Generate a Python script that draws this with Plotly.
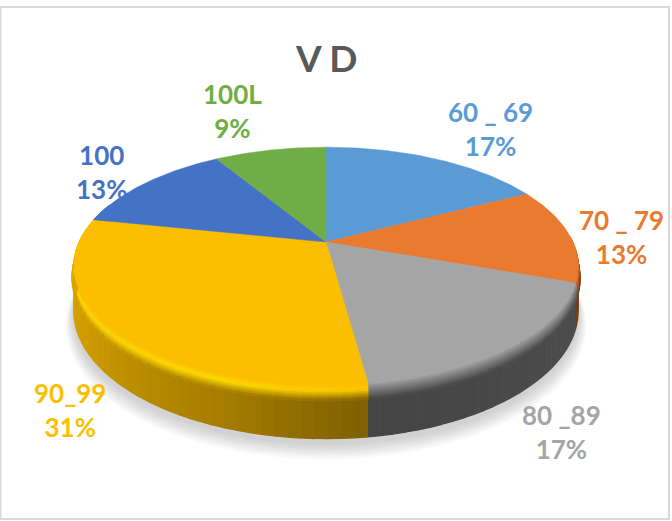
import numpy as np
import plotly.graph_objects as go

categories = ["60 _ 69", "70 _ 79", "80 _89", "90_99", "100", "100L"]
values = [4, 3, 4, 7, 3, 2]
percent_labels = ["17%", "13%", "17%", "31%", "13%", "9%"]
colors = [(91, 155, 213), (233, 122, 47), (165, 165, 165), (252, 190, 0), (68, 114, 196), (112, 173, 71)]
label_pos = [(490, 129), (621, 237), (561, 432), (70, 410), (101, 172), (232, 111)]

CX, CY, RX, RY, K = 326.0, 242.0, 247.0, 114.0, 0.2017
DEPTH, BEVEL = 43.0, 12.0


def project(theta_deg, r=1.0, dz=0.0):
    th = np.radians(theta_deg)
    u, v = r * np.sin(th), r * np.cos(th)
    w = 1 + K * np.cos(th)
    return CX + RX * u / (1 + K * v), CY + (-RY * v + dz) / w


def rgb(c):
    return f"rgb({int(c[0])},{int(c[1])},{int(c[2])})"


def mix(a, b, t):
    return tuple(a[i] + (b[i] - a[i]) * t for i in range(3))


def wall_factor(i, th):
    if i == 3:
        return float(np.interp(th, [172, 200, 240, 275, 290], [0.50, 0.66, 0.82, 0.88, 0.9]))
    if i == 2:
        return float(np.interp(th, [108, 172], [0.47, 0.42]))
    return 0.5


def poly(xs, ys, color, lw=1.2):
    return go.Scatter(x=list(xs), y=list(ys), mode="lines", fill="toself", fillcolor=color,
                      line=dict(color=color, width=lw), hoverinfo="skip", showlegend=False)


fig = go.Figure()
edges = np.concatenate([[0], np.cumsum(values)]) / sum(values) * 360.0

# soft shadow below the pie
ring = np.linspace(0, 360, 181)
for k in range(8):
    grow = 1.03 - 0.004 * k
    extra = 56 - 1.2 * k
    x, y = project(ring, grow, extra)
    fig.add_trace(go.Scatter(x=x, y=y, mode="lines", fill="toself", fillcolor="rgba(90,90,90,0.035)",
                             line=dict(width=0), hoverinfo="skip", showlegend=False))

# side wall and bevel
STEP = 2.5
BANDS = np.linspace(0, 1, 9)
for i in range(len(values)):
    a, b = max(edges[i], 88.0), min(edges[i + 1], 290.0)
    if b <= a:
        continue
    n = max(1, int(np.ceil((b - a) / STEP)))
    th = np.linspace(a, b, n + 1)
    for t0, t1 in zip(th[:-1], th[1:]):
        mid = (t0 + t1) / 2
        f = wall_factor(i, mid)
        wall = mix((0, 0, 0), colors[i], f)
        x0, y0 = project(np.array([t0, t1]), 1.0, BEVEL)
        x1, y1 = project(np.array([t1, t0]), 1.0, DEPTH)
        fig.add_trace(poly(np.r_[x0, x1], np.r_[y0, y1], rgb(wall)))
        for b0, b1 in zip(BANDS[:-1], BANDS[1:]):
            m = (b0 + b1) / 2
            if i == 3:
                glow = float(np.interp(mid, [172, 200, 282], [0.25, 0.9, 0.6]))
                bright = mix(colors[i], (255, 222, 0), glow)
                c = mix(colors[i], bright, m / 0.4) if m < 0.4 else mix(bright, wall, (m - 0.4) / 0.6)
            else:
                c = mix(colors[i], wall, m)
            x0, y0 = project(np.array([t0, t1]), 1.0 + 0.008 * b0, BEVEL * b0)
            x1, y1 = project(np.array([t1, t0]), 1.0 + 0.008 * b1, BEVEL * b1)
            fig.add_trace(poly(np.r_[x0, x1], np.r_[y0, y1], rgb(c), lw=0.9))

# top faces
for i, name in enumerate(categories):
    th = np.linspace(edges[i], edges[i + 1], 80)
    x, y = project(th)
    fig.add_trace(go.Scatter(x=np.r_[CX, x, CX], y=np.r_[CY, y, CY], mode="lines", fill="toself",
                             fillcolor=rgb(colors[i]), line=dict(color=rgb(colors[i]), width=0.5),
                             name=name, text=percent_labels[i], hoverinfo="name+text", showlegend=False))

annotations = [dict(x=326, y=57, xref="x", yref="y", text="<b>V D</b>", showarrow=False,
                    font=dict(family="Lato", size=37, color="#595959"))]
for i, name in enumerate(categories):
    annotations.append(dict(x=label_pos[i][0], y=label_pos[i][1], xref="x", yref="y", showarrow=False,
                            text=f"<b>{name}<br>{percent_labels[i]}</b>", align="center",
                            font=dict(family="Lato", size=26, color=rgb(colors[i]))))

fig.update_layout(
    width=672, height=521, margin=dict(l=0, r=0, t=0, b=0),
    paper_bgcolor="white", plot_bgcolor="white", showlegend=False,
    xaxis=dict(range=[0, 672], visible=False, fixedrange=True),
    yaxis=dict(range=[521, 0], visible=False, fixedrange=True),
    annotations=annotations,
    shapes=[dict(type="rect", xref="x", yref="y", x0=0.5, y0=7, x1=669, y1=519,
                 line=dict(color="#D9D9D9", width=2), layer="below")],
)
fig.write_html("out.html", config=dict(displayModeBar=False),
               post_script="document.body.style.margin='0';document.documentElement.style.overflow='hidden';")
